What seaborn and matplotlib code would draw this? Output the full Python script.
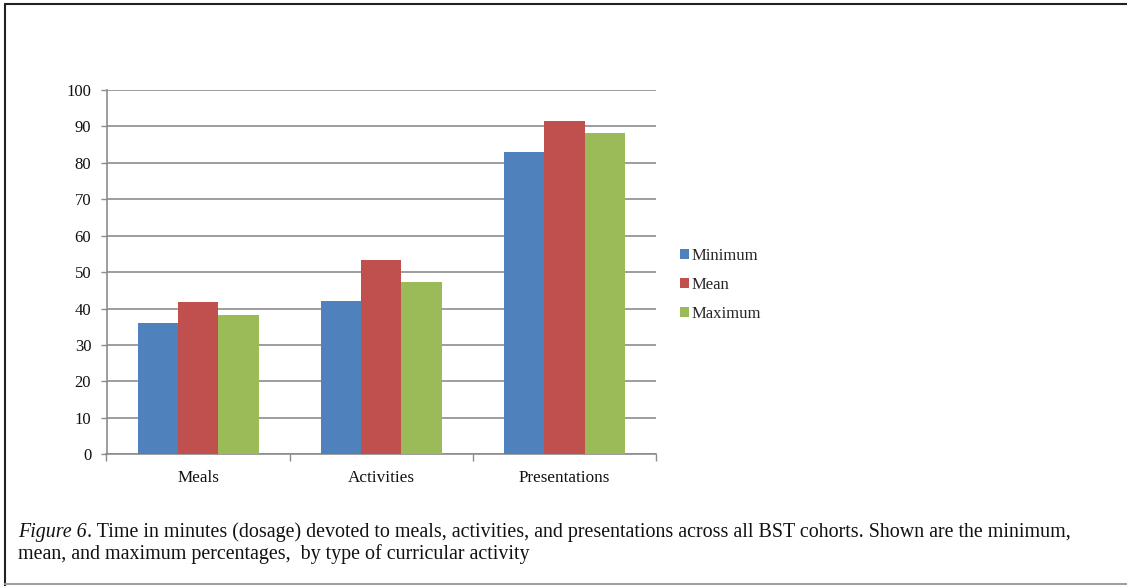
import matplotlib
matplotlib.use("Agg")
import matplotlib.pyplot as plt
from matplotlib.lines import Line2D
from matplotlib.patches import Patch
import seaborn as sns
import pandas as pd

categories = ["Meals", "Activities", "Presentations"]
series = ["Minimum", "Mean", "Maximum"]
minimum = [36.0, 42.2, 83.1]
mean = [41.8, 53.3, 91.6]
maximum = [38.2, 47.3, 88.2]
colors = ["#4F81BD", "#C0504D", "#9BBB59"]
yticks = [0, 10, 20, 30, 40, 50, 60, 70, 80, 90, 100]

df = pd.DataFrame({
    "category": categories * 3,
    "series": [s for s in series for _ in categories],
    "value": minimum + mean + maximum,
})

sns.set_theme(style="white")
plt.rcParams["font.family"] = ["Liberation Serif", "DejaVu Serif"]

W, H = 1127, 586
fig = plt.figure(figsize=(W / 100, H / 100), dpi=100)
ax = fig.add_axes([106.5 / W, 1 - 454.3 / H, (656 - 106.5) / W, (454.3 - 90) / H])

sns.barplot(data=df, x="category", y="value", hue="series", order=categories,
            hue_order=series, palette=colors, width=0.66, saturation=1,
            edgecolor="none", linewidth=0, ax=ax, legend=False, zorder=3)

ax.set_ylim(0, 100)
ax.set_xlim(-0.5, 2.5)
ax.set_yticks(yticks)
ax.set_yticklabels([str(t) for t in yticks], fontsize=12, color="#111111")
ax.yaxis.grid(True, color="#8C8C8C", linewidth=1.2, zorder=0)
ax.set_axisbelow(True)
ax.set_xlabel("")
ax.set_ylabel("")
ax.tick_params(axis="y", length=4, width=1, color="#8C8C8C", pad=7, left=True)
ax.tick_params(axis="x", which="major", length=0, pad=11, labelsize=12.3, labelcolor="#111111")
ax.set_xticks([-0.5, 0.5, 1.5, 2.5], minor=True)
ax.tick_params(axis="x", which="minor", length=5, width=1, color="#8C8C8C", bottom=True)

for side in ["top", "right"]:
    ax.spines[side].set_visible(False)
for side in ["left", "bottom"]:
    ax.spines[side].set_color("#8C8C8C")
    ax.spines[side].set_linewidth(1.2)

handles = [Patch(facecolor=c, edgecolor="none") for c in colors]
fig.legend(handles, series, loc="upper left", bbox_to_anchor=(680 / W, 1 - 247.5 / H),
           frameon=False, fontsize=12, handlelength=0.55, handleheight=0.55,
           handletextpad=0.15, labelspacing=0.8, borderaxespad=0, borderpad=0)

cap_size = 14.45
cap1 = fig.text(18 / W, 1 - 532 / H, "Figure 6", style="italic", fontsize=cap_size,
                va="center", ha="left", color="#111111")
fig.canvas.draw()
bb = cap1.get_window_extent()
fig.text(bb.x1 / W, 1 - 532 / H,
         ". Time in minutes (dosage) devoted to meals, activities, and presentations across all BST cohorts. "
         "Shown are the minimum,",
         fontsize=cap_size, va="center", ha="left", color="#111111")
fig.text(18 / W, 1 - 554 / H, "mean, and maximum percentages,  by type of curricular activity",
         fontsize=cap_size, va="center", ha="left", color="#111111")

# page frame
fig.add_artist(Line2D([4.5 / W, 4.5 / W], [0, 1 - 3.5 / H], transform=fig.transFigure,
                      color="#222222", linewidth=1.5))
fig.add_artist(Line2D([4.5 / W, 1], [1 - 3.5 / H, 1 - 3.5 / H], transform=fig.transFigure,
                      color="#222222", linewidth=1.5))
fig.add_artist(Line2D([4.5 / W, 1], [1 - 583.5 / H, 1 - 583.5 / H], transform=fig.transFigure,
                      color="#A0A0A0", linewidth=1.5))

fig.savefig("out.png", dpi=100)
